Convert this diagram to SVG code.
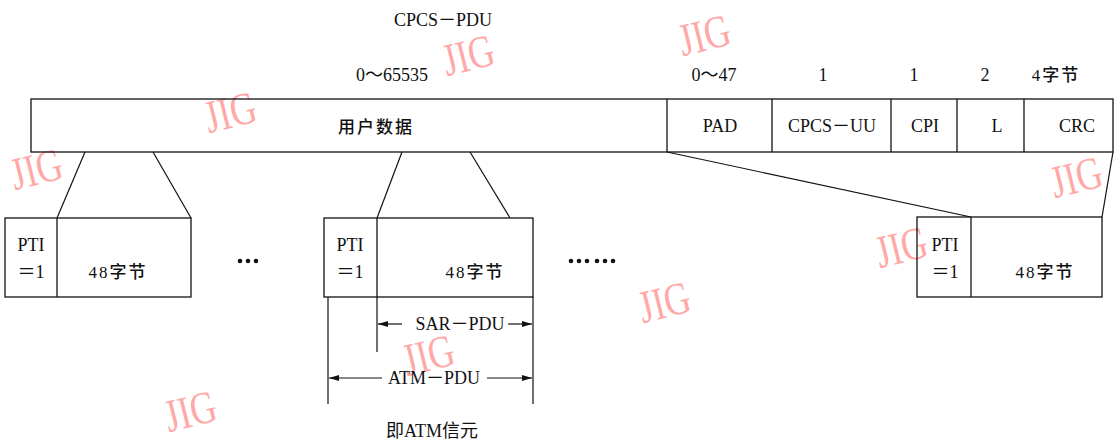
<svg xmlns="http://www.w3.org/2000/svg" width="1118" height="440" viewBox="0 0 1118 440">
<defs>
<marker id="ah" viewBox="0 0 10 6" refX="10" refY="3" markerWidth="11" markerHeight="6" markerUnits="userSpaceOnUse" orient="auto-start-reverse">
<path d="M0,0 L10,3 L0,6 z" fill="#111"/>
</marker>
</defs>
<style>
.box{fill:none;stroke:#111;stroke-width:1.3}
.ln{fill:none;stroke:#111;stroke-width:1.2}
.t{font-family:"Liberation Serif","Noto Sans CJK SC",serif;font-size:18px;fill:#111;text-anchor:middle}
.c{font-family:"Liberation Serif","Noto Sans CJK SC",serif;font-size:17px;font-weight:500;fill:#111;text-anchor:middle;letter-spacing:2px}
.dot{fill:#111}
.wm{font-family:"Liberation Serif",serif;font-size:46px;fill:#ffa8a8;text-anchor:middle}
</style>
<rect width="1118" height="440" fill="#fff"/>

<g id="watermarks">
<text class="wm" transform="translate(472,70) rotate(-14) scale(0.78,1)">JIG</text>
<text class="wm" transform="translate(234,127) rotate(-14) scale(0.78,1)">JIG</text>
<text class="wm" transform="translate(40,184) rotate(-14) scale(0.78,1)">JIG</text>
<text class="wm" transform="translate(708,50) rotate(-14) scale(0.78,1)">JIG</text>
<text class="wm" transform="translate(905,262) rotate(-14) scale(0.78,1)">JIG</text>
<text class="wm" transform="translate(668,317) rotate(-14) scale(0.78,1)">JIG</text>
<text class="wm" transform="translate(432,370) rotate(-14) scale(0.78,1)">JIG</text>
<text class="wm" transform="translate(194,426) rotate(-14) scale(0.78,1)">JIG</text>
<text class="wm" transform="translate(1080,192) rotate(-14) scale(0.78,1)">JIG</text>
</g>

<g id="labels-top">
<text class="t" x="443" y="26">CPCS－PDU</text>
<text class="t" x="392" y="81">0～65535</text>
<text class="t" x="714" y="81">0～47</text>
<text class="t" x="823" y="81">1</text>
<text class="t" x="914" y="81">1</text>
<text class="t" x="985" y="81">2</text>
<text class="c" x="1056" y="81">4字节</text>
</g>

<g id="cpcs-pdu">
<rect class="box" x="31" y="99" width="1082" height="53"/>
<line class="box" x1="667" y1="99" x2="667" y2="152"/>
<line class="box" x1="772" y1="99" x2="772" y2="152"/>
<line class="box" x1="891" y1="99" x2="891" y2="152"/>
<line class="box" x1="957" y1="99" x2="957" y2="152"/>
<line class="box" x1="1024" y1="99" x2="1024" y2="152"/>
<text class="c" x="376" y="133">用户数据</text>
<text class="t" x="720" y="132">PAD</text>
<text class="t" x="832" y="132">CPCS－UU</text>
<text class="t" x="925" y="132">CPI</text>
<text class="t" x="997" y="132">L</text>
<text class="t" x="1077" y="132">CRC</text>
</g>

<g id="cell1">
<rect class="box" x="5" y="218" width="186" height="79"/>
<line class="box" x1="57" y1="218" x2="57" y2="297"/>
<text class="t" x="31" y="251">PTI</text>
<text class="t" x="31" y="278">＝1</text>
<text class="c" x="118" y="278">48字节</text>
</g>

<g id="cell2">
<rect class="box" x="324" y="218" width="209" height="79"/>
<line class="box" x1="377" y1="218" x2="377" y2="297"/>
<text class="t" x="350" y="251">PTI</text>
<text class="t" x="350" y="278">＝1</text>
<text class="c" x="475" y="278">48字节</text>
</g>

<g id="cell3">
<rect class="box" x="917" y="217" width="185" height="80"/>
<line class="box" x1="971" y1="217" x2="971" y2="297"/>
<text class="t" x="945" y="251">PTI</text>
<text class="t" x="945" y="278">＝1</text>
<text class="c" x="1045" y="278">48字节</text>
</g>

<g id="ellipses">
<circle class="dot" cx="240" cy="261" r="2.3"/>
<circle class="dot" cx="248" cy="261" r="2.3"/>
<circle class="dot" cx="256" cy="261" r="2.3"/>
<circle class="dot" cx="571" cy="261" r="2.3"/>
<circle class="dot" cx="579" cy="261" r="2.3"/>
<circle class="dot" cx="587" cy="261" r="2.3"/>
<circle class="dot" cx="597" cy="261" r="2.3"/>
<circle class="dot" cx="605" cy="261" r="2.3"/>
<circle class="dot" cx="613" cy="261" r="2.3"/>
</g>

<g id="connectors">
<line class="ln" x1="85" y1="152" x2="57" y2="218"/>
<line class="ln" x1="153" y1="152" x2="191" y2="218"/>
<line class="ln" x1="402" y1="152" x2="377" y2="218"/>
<line class="ln" x1="470" y1="152" x2="510" y2="218"/>
<line class="ln" x1="667" y1="152" x2="971" y2="217"/>
<line class="ln" x1="1113" y1="152" x2="1102" y2="217"/>
<line class="ln" x1="328" y1="297" x2="328" y2="404"/>
<line class="ln" x1="377" y1="297" x2="377" y2="352"/>
<line class="ln" x1="533" y1="297" x2="533" y2="404"/>
<line class="ln" x1="402" y1="324" x2="378" y2="324" marker-end="url(#ah)"/>
<line class="ln" x1="508" y1="324" x2="532" y2="324" marker-end="url(#ah)"/>
<line class="ln" x1="382" y1="378" x2="329" y2="378" marker-end="url(#ah)"/>
<line class="ln" x1="487" y1="378" x2="532" y2="378" marker-end="url(#ah)"/>
</g>

<g id="dimension-labels">
<text class="t" x="460" y="330">SAR－PDU</text>
<text class="t" x="434" y="384">ATM－PDU</text>
<text class="t" x="432" y="437">即ATM信元</text>
</g>
</svg>
